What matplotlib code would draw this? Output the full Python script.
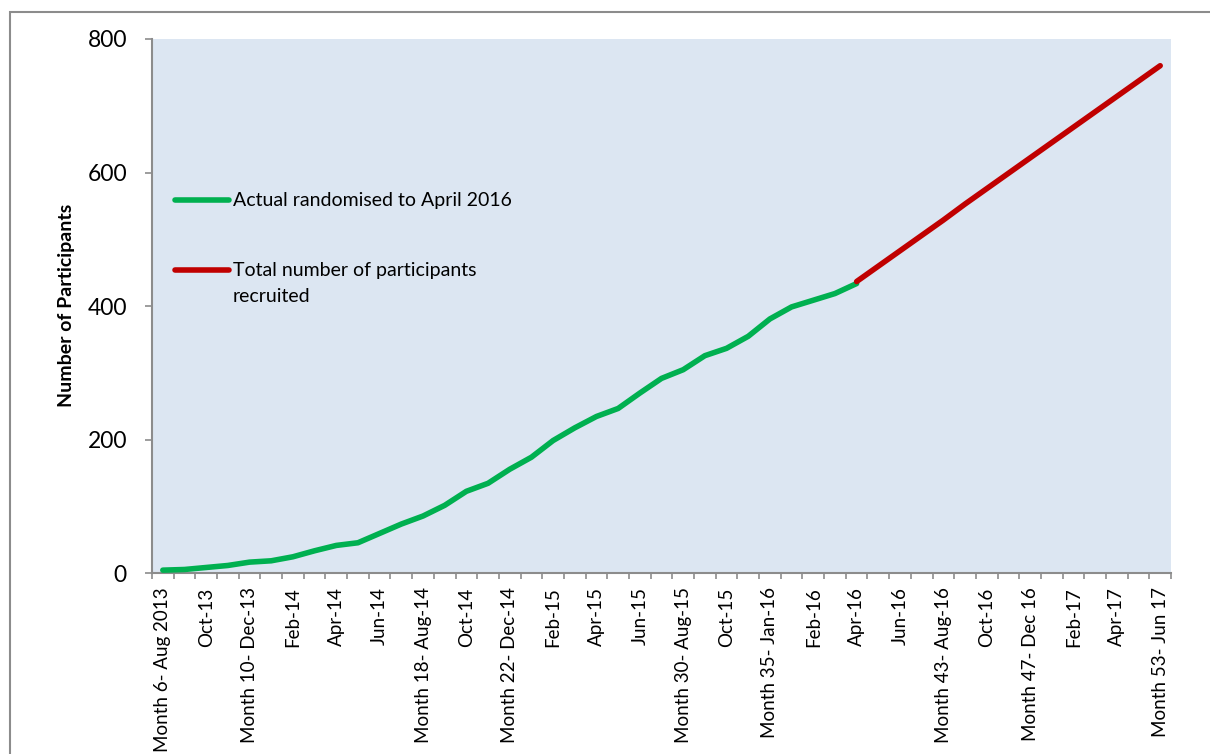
import matplotlib
matplotlib.use("Agg")
import matplotlib.pyplot as plt
from matplotlib.patches import Rectangle
from matplotlib.ticker import FixedLocator, NullFormatter

plt.rcParams["font.family"] = ["Lato", "DejaVu Sans"]

meses = [
    "Month 6- Aug 2013", "Sep-13", "Oct-13", "Nov-13", "Month 10- Dec-13", "Jan-14",
    "Feb-14", "Mar-14", "Apr-14", "May-14", "Jun-14", "Jul-14",
    "Month 18- Aug-14", "Sep-14", "Oct-14", "Nov-14", "Month 22- Dec-14", "Jan-15",
    "Feb-15", "Mar-15", "Apr-15", "May-15", "Jun-15", "Jul-15",
    "Month 30- Aug-15", "Sep-15", "Oct-15", "Nov-15", "Month 35- Jan-16", "Jan-16",
    "Feb-16", "Mar-16", "Apr-16", "May-16", "Jun-16", "Jul-16",
    "Month 43- Aug-16", "Sep-16", "Oct-16", "Nov-16", "Month 47- Dec 16", "Jan-17",
    "Feb-17", "Mar-17", "Apr-17", "May-17", "Month 53- Jun 17",
]

# aleatorizados reales (hasta Apr-16)
reales = [5, 6, 9, 12, 17, 19, 25, 34, 42, 46, 60, 74,
          86, 102, 123, 135, 156, 174, 199, 218, 235, 247, 270, 292,
          305, 326, 337, 355, 381, 399, 409, 419, 434]

# total previsto (desde Apr-16)
inicio_previsto = 32
previstos = [437, 460, 483, 506, 529, 553, 576, 599, 622, 645, 668, 691, 714, 737, 760]

lbl_reales = "Actual randomised to April 2016"
lbl_previstos = "Total number of participants\nrecruited"

verde = "#00B050"
rojo = "#C00000"
gris = "#8c8c8c"

fig = plt.figure(figsize=(12.10, 7.54), dpi=100)
ax = fig.add_axes([0.1256, 0.2394, 0.8422, 0.7089])
ax.set_facecolor("#DCE6F2")

x_reales = list(range(len(reales)))
x_previstos = list(range(inicio_previsto, inicio_previsto + len(previstos)))

ax.plot(x_reales, reales, color=verde, lw=4, solid_capstyle="round", solid_joinstyle="round", zorder=3)
ax.plot(x_previstos, previstos, color=rojo, lw=4, solid_capstyle="round", solid_joinstyle="round", zorder=4)

ax.set_xlim(-0.5, len(meses) - 0.5)
ax.set_ylim(0, 800)
ax.set_yticks([0, 200, 400, 600, 800])

# etiquetas cada dos meses, marcas entre categorias
pos = list(range(0, len(meses), 2))
ax.set_xticks(pos)
ax.set_xticklabels([meses[i] for i in pos], rotation=90, fontsize=13.5)
ax.xaxis.set_minor_locator(FixedLocator([i - 0.5 for i in range(len(meses) + 1)]))
ax.xaxis.set_minor_formatter(NullFormatter())
ax.tick_params(axis="x", which="major", length=0, pad=10)
ax.tick_params(axis="x", which="minor", length=4.5, width=1.2, color=gris)
ax.tick_params(axis="y", length=5, width=1.2, color=gris, pad=13, labelsize=16.5)

for lado in ["top", "right"]:
    ax.spines[lado].set_visible(False)
for lado in ["left", "bottom"]:
    ax.spines[lado].set_color(gris)
    ax.spines[lado].set_linewidth(1.5)

ax.set_ylabel("Number of Participants", fontsize=14, fontweight="bold")
ax.yaxis.set_label_coords(-0.0756, 0.501)

# leyenda dentro del area
ax.plot([0.0226, 0.0756], [0.6988, 0.6988], transform=ax.transAxes, color=verde, lw=4, solid_capstyle="round")
ax.text(0.0795, 0.6866, lbl_reales, transform=ax.transAxes, fontsize=14, va="baseline")
ax.plot([0.0226, 0.0756], [0.5678, 0.5678], transform=ax.transAxes, color=rojo, lw=4, solid_capstyle="round")
ax.text(0.0795, 0.582, lbl_previstos, transform=ax.transAxes, fontsize=14, va="top", linespacing=1.6)

# marco del grafico
fig.patches.append(Rectangle((10 / 1210, -0.05), 1.2, 0.984 + 0.05, transform=fig.transFigure,
                             fill=False, edgecolor=gris, lw=1.5))

fig.savefig("out.png", dpi=100)
